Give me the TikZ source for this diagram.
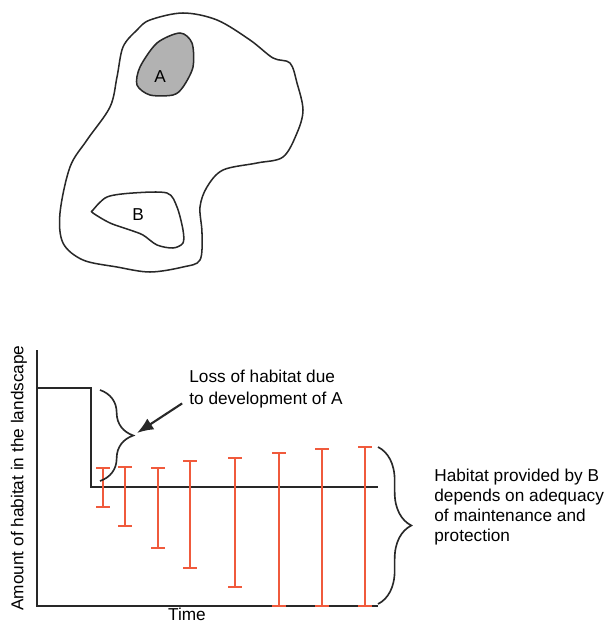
\documentclass[tikz,border=0pt]{standalone}
\usepackage{fontspec}
\setmainfont{Liberation Sans}
\usetikzlibrary{arrows.meta, calc, positioning, decorations.pathreplacing}
\definecolor{barred}{RGB}{240, 90, 60}
\definecolor{inkgray}{RGB}{40, 40, 40}

\begin{document}
\begin{tikzpicture}[x=0.03cm, y=-0.03cm,
    outline/.style={inkgray, line width=1.3pt, line join=round},
    axisline/.style={inkgray, line width=1.6pt},
    errbar/.style={barred, line width=1.3pt},
    bracket/.style={inkgray, line width=1.4pt, decorate,
      decoration={brace, amplitude=#1}},
    pointer/.style={-{Latex[length=14pt, width=11pt]}, inkgray, line width=1.8pt},
    lbl/.style={font=\fontsize{14.7}{18.5}\selectfont, inner sep=1pt}]
  \useasboundingbox (0,0) rectangle (606,624);
  %--- Map: landscape with patches A and B ---
  \draw[outline] plot[smooth cycle, tension=0.55] coordinates {
    (150,20) (183,13) (217,20) (250,40) (273,58) (290,63) (297,83)
    (303,110) (297,133) (283,157) (257,163) (223,170) (207,187)
    (200,207) (202,233) (200,260) (183,267) (150,272) (117,267)
    (83,260) (63,243) (60,213) (70,167) (87,140) (110,107) (117,77)
    (123,47) (137,30)};
  \draw[outline, fill=gray!60] plot[smooth cycle, tension=0.5] coordinates {
    (157,43) (180,33) (192,43) (193,67) (183,87) (173,95) (150,95)
    (137,85) (140,67)};
  \draw[outline] plot[smooth cycle, tension=0.5] coordinates {
    (93,210) (107,197) (133,193) (167,193) (177,207) (183,230)
    (183,243) (173,248) (157,245) (143,235) (130,230) (110,223)
    (93,213)};
  \node[lbl] (patchA) at (160,77) {A};
  \node[lbl] (patchB) at (138,215) {B};
  %--- Graph: habitat over time ---
  \coordinate (origin) at (37,606);
  \draw[axisline] (37,350) -- (origin) -- (378,606);
  \draw[axisline] (37,388) -- (91,388) -- (91,487) -- (378,487);
  % red bars: range of habitat kept in B
  \foreach \x/\top/\bot in {103/468/507, 125/467/526, 158/468/548,
      190/461/568, 235/458/587, 279/453/606, 322/449/606, 365/447/606}
    \draw[errbar] (\x-7,\top) -- (\x+7,\top) (\x,\top) -- (\x,\bot)
      (\x-7,\bot) -- (\x+7,\bot);
  % braces
  \draw[bracket=1.0cm] (100,390) -- (100,481);
  \coordinate (tipA) at (137,433);
  \draw[bracket=1.0cm] (378,447) -- (378,604);
  \node[lbl, anchor=west, align=left] (loss) at (188,389)
    {Loss of habitat due\\to development of A};
  \draw[pointer] ([xshift=-5pt, yshift=5pt]loss.south west) -- (tipA);
  \node[lbl, anchor=west, align=left, font=\fontsize{14.7}{17}\selectfont]
    (provided) at (433,507)
    {Habitat provided by B\\depends on adequacy\\of maintenance and\\protection};
  \node[lbl, rotate=90] (ylabel) at (19,478) {Amount of habitat in the landscape};
  \node[lbl] (xlabel) at (187,614) {Time};
\end{tikzpicture}
\end{document}
